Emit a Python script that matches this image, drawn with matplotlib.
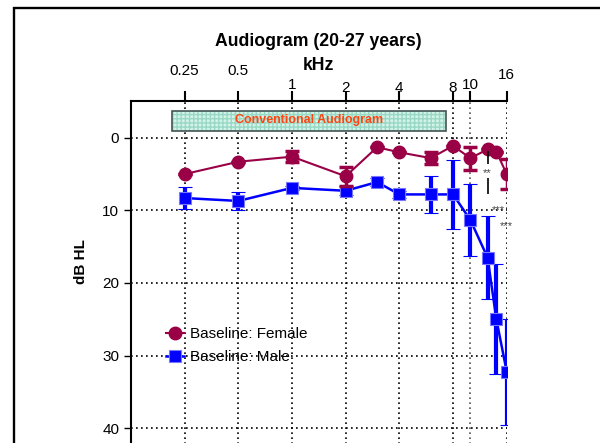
import matplotlib
matplotlib.use("Agg")
import matplotlib.pyplot as plt
from matplotlib.patches import Rectangle
from matplotlib.lines import Line2D
from matplotlib.transforms import blended_transform_factory

plt.rcParams['font.family'] = ['Liberation Sans', 'DejaVu Sans']

# frequencies (kHz)
freq = [0.25, 0.5, 1, 2, 3, 4, 6, 8, 10, 12.5, 14, 16]
female = [5.0, 3.3, 2.6, 5.3, 1.3, 2.0, 2.8, 1.1, 2.8, 1.6, 1.9, 5.0]
female_err = [0.0, 0.0, 0.8, 1.3, 0.0, 0.0, 0.8, 0.0, 1.6, 0.0, 0.0, 2.1]
male = [8.3, 8.7, 6.9, 7.3, 6.1, 7.8, 7.8, 7.8, 11.3, 16.5, 25.0, 32.2]
male_err = [1.5, 1.3, 0.3, 0.6, 0.6, 0.5, 2.6, 4.8, 5.0, 5.7, 7.6, 7.3]

tick_freq = [0.25, 0.5, 1, 2, 4, 8, 10, 16]
tick_text = ['0.25', '0.5', '1', '2', '4', '8', '10', '16']
tick_label_y = [71, 71, 85, 88, 88, 88, 85, 75]  # pixel rows of the staggered labels

female_col = '#990045'
male_col = '#0000ff'

fig = plt.figure(figsize=(6, 4.43), dpi=100)
ax = fig.add_axes([131 / 600, -0.0485, 375.7 / 600, 0.8194])

ax.set_xscale('log')
ax.set_xlim(0.125, 16)
ax.set_ylim(45, -5)

# grid
for f in tick_freq:
    ax.axvline(f, color='#555555' if f == 10 else 'black', ls=(0, (1, 2)), lw=1.2, zorder=1)
for y in [0, 10, 20, 30, 40]:
    ax.axhline(y, color='black', ls=(0, (1, 2)), lw=1.2, zorder=1)

# conventional audiogram box
ax.add_patch(Rectangle((0.211, -3.75), 7.35 - 0.211, 2.75, facecolor='#d2f3e8',
                       edgecolor='#9ad8c6', hatch='++++', lw=0, zorder=2))
ax.add_patch(Rectangle((0.211, -3.75), 7.35 - 0.211, 2.75, facecolor='none',
                       edgecolor='#445555', lw=1.2, zorder=3))
ax.text(1.25, -2.4, 'Conventional Audiogram', color='#ff4411', fontsize=9,
        fontweight='bold', ha='center', va='center', zorder=4)

ax.errorbar(freq, male, yerr=male_err, fmt='-s', color=male_col, ms=9,
            mec='#7777ff', mew=0.8, lw=1.8, elinewidth=3, capsize=5, capthick=3,
            zorder=5)
ax.errorbar(freq, female, yerr=female_err, fmt='-o', color=female_col, ms=9,
            mec=female_col, lw=1.5, elinewidth=2.5, capsize=5, capthick=2.5,
            zorder=6)

# significance marks
ax.vlines(12.5, 1.8, 3.6, color='black', lw=1.2, zorder=7)
ax.vlines(12.5, 5.6, 7.7, color='black', lw=1.2, zorder=7)
ax.text(12.5, 4.9, '**', color='#444444', fontsize=8, ha='center', va='center')
ax.text(14.4, 9.9, '***', color='#444444', fontsize=8, ha='center', va='center')
ax.text(16.0, 12.1, '***', color='#444444', fontsize=8, ha='center', va='center')

# axes styling
ax.spines['right'].set_visible(False)
ax.spines['bottom'].set_visible(False)
ax.spines['left'].set_linewidth(1.5)
ax.spines['top'].set_linewidth(1.5)
ax.xaxis.set_ticks_position('top')
ax.set_xticks(tick_freq)
ax.set_xticks([], minor=True)
ax.set_xticklabels([])
ax.tick_params(axis='x', direction='out', length=7, width=1.5)
ax.set_yticks([0, 10, 20, 30, 40])
ax.tick_params(axis='y', direction='out', length=5, width=1, labelsize=11)

label_tr = blended_transform_factory(ax.transData, fig.transFigure)
for f, t, yp in zip(tick_freq, tick_text, tick_label_y):
    ax.text(f, 1 - yp / 443, t, fontsize=11, ha='center', va='center', transform=label_tr)

fig.text(318.8 / 600, 1 - 41 / 443, 'Audiogram (20-27 years)', fontsize=12.7,
         fontweight='bold', ha='center', va='center')
fig.text(318.8 / 600, 1 - 66 / 443, 'kHz', fontsize=12.7, fontweight='bold',
         ha='center', va='center')
fig.text(81 / 600, 1 - 262 / 443, 'dB HL', fontsize=11, fontweight='bold',
         rotation=90, ha='center', va='center')

handles = [
    Line2D([], [], color=female_col, marker='o', ms=9, lw=1.5),
    Line2D([], [], color=male_col, marker='s', ms=9, mec='#7777ff', mew=0.8, lw=1.8),
]
ax.legend(handles, ['Baseline: Female', 'Baseline: Male'], loc='upper left',
          frameon=False, fontsize=11,
          bbox_to_anchor=(166 / 600, 1 - 327 / 443), bbox_transform=fig.transFigure,
          handlelength=1.2, handletextpad=0.4, borderpad=0, borderaxespad=0,
          labelspacing=0.6)

# outer frame (left and top edges visible)
fig.patches.append(Rectangle((13.8 / 600, -1), 2, 2 - 8.3 / 443, transform=fig.transFigure,
                             fill=False, edgecolor='black', lw=1.7))

fig.savefig('out.png', dpi=100)
